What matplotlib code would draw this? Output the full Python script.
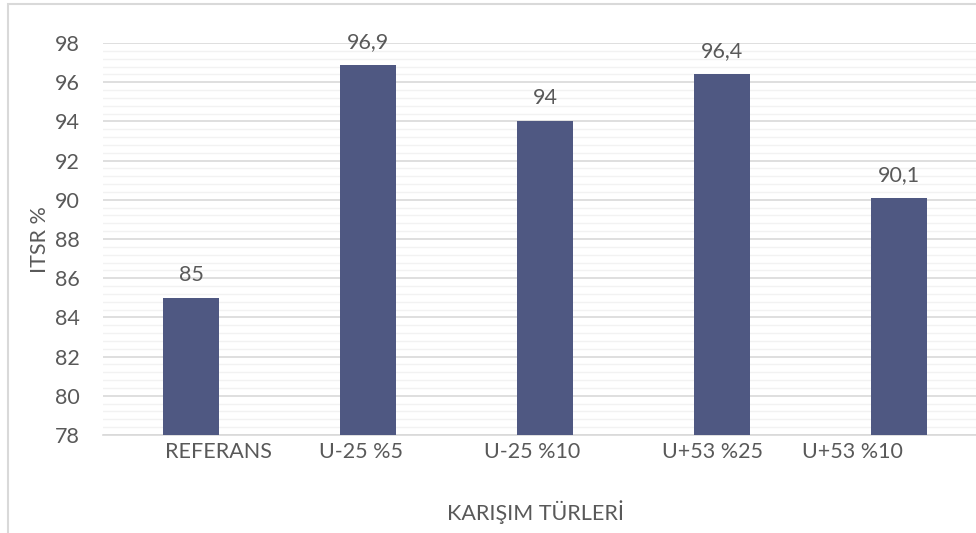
import matplotlib
matplotlib.use("Agg")
import matplotlib.pyplot as plt
import matplotlib.transforms as mtransforms
from matplotlib.patches import Rectangle
from matplotlib.ticker import MultipleLocator

categories = ["REFERANS", "U-25 %5", "U-25 %10", "U+53 %25", "U+53 %10"]
values = [85, 96.9, 94, 96.4, 90.1]
value_labels = ["85", "96,9", "94", "96,4", "90,1"]
y_ticks = [78, 80, 82, 84, 86, 88, 90, 92, 94, 96, 98]

# horizontal pixel offsets of category labels (as in reference layout)
label_dx = [27, -7, -13, -10, -47]

plt.rcParams['font.family'] = ['Lato', 'DejaVu Sans']
TXT = "#595959"
BAR = "#4F5882"
FS = 15.5

fig = plt.figure(figsize=(9.76, 5.33), dpi=100)
W, H = 976, 533
fig.patches.append(Rectangle((8 / W, -0.1), 1.2, 1 - 4 / H + 0.1, transform=fig.transFigure,
                             fill=False, edgecolor="#D9D9D9", linewidth=1.5))

ax = fig.add_axes([103 / W, 1 - 435 / H, (987.5 - 103) / W, (435 - 43) / H])
x = list(range(len(categories)))
ax.bar(x, values, width=0.316, color=BAR, zorder=3)
ax.set_ylim(78, 98)
ax.set_xlim(-0.5, len(categories) - 0.5)
ax.set_yticks(y_ticks)
ax.yaxis.set_minor_locator(MultipleLocator(0.4))
ax.grid(axis="y", which="major", color="#D9D9D9", linewidth=1.2, zorder=0)
ax.grid(axis="y", which="minor", color="#F2F2F2", linewidth=1.0, zorder=0)
for s in ["top", "right", "left"]:
    ax.spines[s].set_visible(False)
ax.spines["bottom"].set_color("#D9D9D9")
ax.spines["bottom"].set_linewidth(1.2)
ax.tick_params(axis="both", which="both", length=0, colors=TXT, labelsize=FS)
ax.tick_params(axis="y", pad=16.5)
ax.tick_params(axis="x", pad=5)
ax.set_xticks(x)
ax.set_xticklabels(categories)
for lab, dx in zip(ax.get_xticklabels(), label_dx):
    lab.set_transform(lab.get_transform() + mtransforms.Affine2D().translate(dx, 0))

for xi, v, t in zip(x, values, value_labels):
    ax.annotate(t, (xi, v), xytext=(0, 16.5), textcoords="offset points",
                ha="center", va="center", color=TXT, fontsize=FS)

fig.text(40 / W, 1 - 240 / H, "ITSR %", rotation=90, ha="center", va="center",
         color=TXT, fontsize=FS)
fig.text(535 / W, 1 - 512 / H, "KARIŞIM TÜRLERİ", ha="center", va="center",
         color=TXT, fontsize=FS)

fig.savefig("out.png", dpi=100)
